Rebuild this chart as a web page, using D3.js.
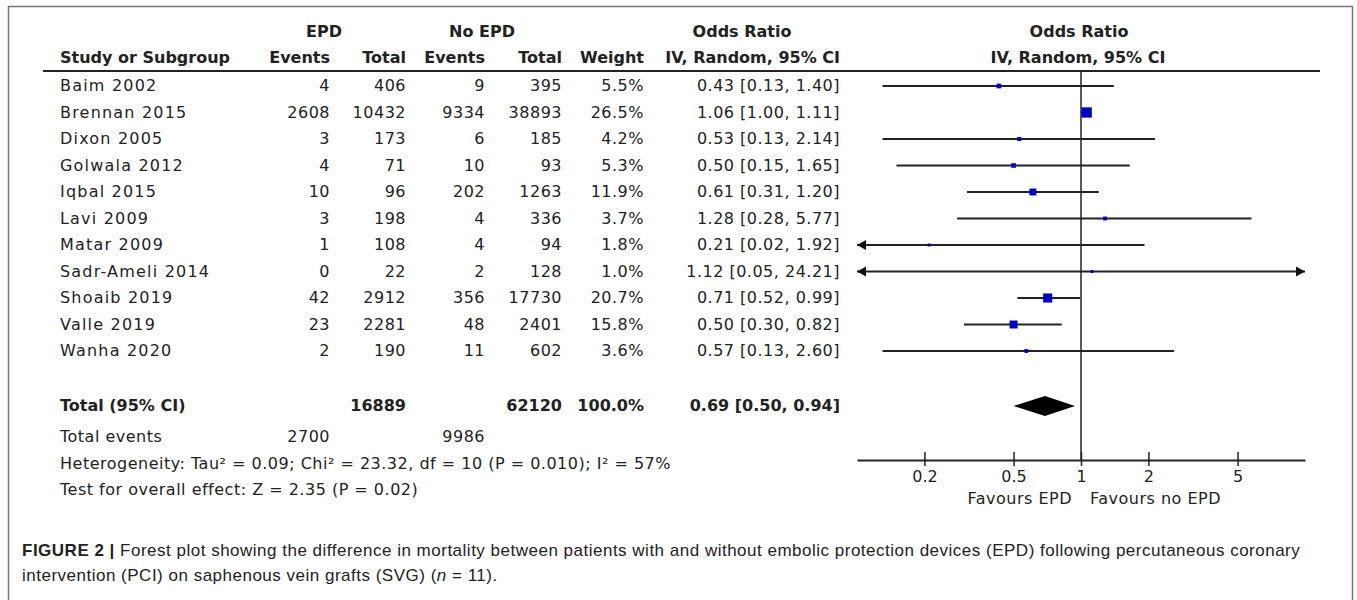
<!DOCTYPE html>
<html>
<head>
<meta charset="utf-8">
<script src="https://cdn.jsdelivr.net/npm/d3@7"></script>
<style>
body { margin:0; background:#fff; }
svg text { fill:#222; }
.tbl { font-family:"DejaVu Sans", sans-serif; font-size:16px; letter-spacing:0.5px; }
.bold { font-weight:bold; letter-spacing:0; }
.name { letter-spacing:1.2px; }
.cap { font-family:"Liberation Sans", Arial, sans-serif; font-size:17px; letter-spacing:0.5px; }
</style>
</head>
<body>
<svg id="chart" width="1357" height="600"></svg>
<script>
// study data
var studies   = ["Baim 2002", "Brennan 2015", "Dixon 2005", "Golwala 2012", "Iqbal 2015", "Lavi 2009",
                 "Matar 2009", "Sadr-Ameli 2014", "Shoaib 2019", "Valle 2019", "Wanha 2020"];
var epdEvents = [4, 2608, 3, 4, 10, 3, 1, 0, 42, 23, 2];
var epdTotal  = [406, 10432, 173, 71, 96, 198, 108, 22, 2912, 2281, 190];
var noEvents  = [9, 9334, 6, 10, 202, 4, 4, 2, 356, 48, 11];
var noTotal   = [395, 38893, 185, 93, 1263, 336, 94, 128, 17730, 2401, 602];
var weights   = [5.5, 26.5, 4.2, 5.3, 11.9, 3.7, 1.8, 1.0, 20.7, 15.8, 3.6];
var oddsRatio = [0.43, 1.06, 0.53, 0.50, 0.61, 1.28, 0.21, 1.12, 0.71, 0.50, 0.57];
var ciLow     = [0.13, 1.00, 0.13, 0.15, 0.31, 0.28, 0.02, 0.05, 0.52, 0.30, 0.13];
var ciHigh    = [1.40, 1.11, 2.14, 1.65, 1.20, 5.77, 1.92, 24.21, 0.99, 0.82, 2.60];

var pooled    = {or: 0.69, lo: 0.50, hi: 0.94};
var totals    = {epdTotal: 16889, noTotal: 62120, weight: "100.0%", epdEvents: 2700, noEvents: 9986};
var axisTicks = [0.2, 0.5, 1, 2, 5];

var svg = d3.select("#chart");

// outer frame
svg.append("rect").attr("x", 8.5).attr("y", 6.5).attr("width", 1344).attr("height", 640)
   .attr("fill", "none").attr("stroke", "#777").attr("stroke-width", 1.5);

var x = d3.scaleLog().domain([0.1, 10]).range([857, 1305]);
var y = d3.scaleLinear().domain([0, 10]).range([86, 351]);

// column right edges
var col = {name: 60, e1: 330, t1: 406, e2: 485, t2: 562, w: 644, or: 840};

var g = svg.append("g").attr("class", "tbl");

// headers
var hdr = g.append("g").attr("class", "bold");
hdr.append("text").attr("x", 324).attr("y", 37).attr("text-anchor", "middle").text("EPD");
hdr.append("text").attr("x", 482).attr("y", 37).attr("text-anchor", "middle").text("No EPD");
hdr.append("text").attr("x", 742).attr("y", 37).attr("text-anchor", "middle").text("Odds Ratio");
hdr.append("text").attr("x", 1079).attr("y", 37).attr("text-anchor", "middle").text("Odds Ratio");
hdr.append("text").attr("x", col.name).attr("y", 63).text("Study or Subgroup");
[["Events", col.e1], ["Total", col.t1], ["Events", col.e2], ["Total", col.t2], ["Weight", col.w], ["IV, Random, 95% CI", col.or]]
  .forEach(function(h){
    hdr.append("text").attr("x", h[1]).attr("y", 63).attr("text-anchor", "end").text(h[0]);
  });
hdr.append("text").attr("x", 1078).attr("y", 63).attr("text-anchor", "middle").text("IV, Random, 95% CI");

svg.append("line").attr("x1", 43).attr("x2", 1320).attr("y1", 71).attr("y2", 71)
   .attr("stroke", "#222").attr("stroke-width", 2);

// study rows
var fmt2 = d3.format(".2f");
var rows = g.selectAll("g.row").data(studies).enter().append("g").attr("class", "row")
  .attr("transform", function(d, i){ return "translate(0," + (y(i) + 5) + ")"; });
rows.append("text").attr("class", "name").attr("x", col.name).text(function(d){ return d; });
rows.append("text").attr("x", col.e1).attr("text-anchor", "end").text(function(d, i){ return epdEvents[i]; });
rows.append("text").attr("x", col.t1).attr("text-anchor", "end").text(function(d, i){ return epdTotal[i]; });
rows.append("text").attr("x", col.e2).attr("text-anchor", "end").text(function(d, i){ return noEvents[i]; });
rows.append("text").attr("x", col.t2).attr("text-anchor", "end").text(function(d, i){ return noTotal[i]; });
rows.append("text").attr("x", col.w).attr("text-anchor", "end").text(function(d, i){ return weights[i].toFixed(1) + "%"; });
rows.append("text").attr("x", col.or).attr("text-anchor", "end")
  .text(function(d, i){ return fmt2(oddsRatio[i]) + " [" + fmt2(ciLow[i]) + ", " + fmt2(ciHigh[i]) + "]"; });

// totals
var yTot = 406;
var tot = g.append("g").attr("class", "bold").attr("transform", "translate(0," + (yTot + 5) + ")");
tot.append("text").attr("x", col.name).text("Total (95% CI)");
tot.append("text").attr("x", col.t1).attr("text-anchor", "end").text(totals.epdTotal);
tot.append("text").attr("x", col.t2).attr("text-anchor", "end").text(totals.noTotal);
tot.append("text").attr("x", col.w).attr("text-anchor", "end").text(totals.weight);
tot.append("text").attr("x", col.or).attr("text-anchor", "end")
   .text(fmt2(pooled.or) + " [" + fmt2(pooled.lo) + ", " + fmt2(pooled.hi) + "]");

var ev = g.append("g").attr("transform", "translate(0,442)");
ev.append("text").attr("x", col.name).text("Total events");
ev.append("text").attr("x", col.e1).attr("text-anchor", "end").text(totals.epdEvents);
ev.append("text").attr("x", col.e2).attr("text-anchor", "end").text(totals.noEvents);

g.append("text").attr("x", col.name).attr("y", 469)
 .text("Heterogeneity: Tau\u00B2 = 0.09; Chi\u00B2 = 23.32, df = 10 (P = 0.010); I\u00B2 = 57%");
g.append("text").attr("x", col.name).attr("y", 495)
 .text("Test for overall effect: Z = 2.35 (P = 0.02)");

// forest plot
var plot = svg.append("g");
var axisY = 460;
plot.append("line").attr("x1", x(1)).attr("x2", x(1)).attr("y1", 71).attr("y2", axisY)
    .attr("stroke", "#222").attr("stroke-width", 1.5);

var lo = x.domain()[0], hi = x.domain()[1];
studies.forEach(function(s, i){
  var yy = y(i);
  var x1 = x(Math.max(ciLow[i], lo)), x2 = x(Math.min(ciHigh[i], hi));
  plot.append("line").attr("x1", x1).attr("x2", x2).attr("y1", yy).attr("y2", yy)
      .attr("stroke", "#222").attr("stroke-width", 2);
  if (ciLow[i] < lo)
    plot.append("path").attr("d", "M" + x1 + "," + yy + "l9,-5l0,10z").attr("fill", "#111");
  if (ciHigh[i] > hi)
    plot.append("path").attr("d", "M" + x2 + "," + yy + "l-9,-5l0,10z").attr("fill", "#111");
  var side = Math.max(3, 2 * Math.sqrt(weights[i]));
  plot.append("rect").attr("x", x(oddsRatio[i]) - side / 2).attr("y", yy - side / 2)
      .attr("width", side).attr("height", side).attr("fill", "#0000c8");
});

// pooled diamond
plot.append("path")
  .attr("d", "M" + x(pooled.lo) + "," + yTot + "L" + x(pooled.or) + "," + (yTot - 10) +
             "L" + x(pooled.hi) + "," + yTot + "L" + x(pooled.or) + "," + (yTot + 10) + "Z")
  .attr("fill", "#000");

// axis
var axis = d3.axisBottom(x).tickValues(axisTicks).tickFormat(d3.format("")).tickSizeOuter(0);
var ax = plot.append("g").attr("transform", "translate(0," + axisY + ")").call(axis);
ax.select(".domain").attr("stroke", "#222").attr("stroke-width", 2);
ax.selectAll(".tick line").attr("y1", -8).attr("y2", 6).attr("stroke", "#222").attr("stroke-width", 1.5);
ax.selectAll(".tick text").attr("y", 11).attr("dy", "0.71em")
  .style("font-family", "DejaVu Sans, sans-serif").style("font-size", "16px").attr("fill", "#222");

plot.append("text").attr("class", "tbl").attr("x", 1072).attr("y", 504).attr("text-anchor", "end")
    .text("Favours EPD");
plot.append("text").attr("class", "tbl").attr("x", 1090).attr("y", 504)
    .text("Favours no EPD");

// caption
var cap = svg.append("g").attr("class", "cap");
var c1 = cap.append("text").attr("x", 22).attr("y", 556).attr("fill", "#444");
c1.append("tspan").attr("font-weight", "bold").attr("fill", "#222").text("FIGURE 2 | ");
c1.append("tspan").text("Forest plot showing the difference in mortality between patients with and without embolic protection devices (EPD) following percutaneous coronary");
var c2 = cap.append("text").attr("x", 22).attr("y", 581).attr("fill", "#444");
c2.append("tspan").text("intervention (PCI) on saphenous vein grafts (SVG) (");
c2.append("tspan").attr("font-style", "italic").text("n");
c2.append("tspan").text(" = 11).");
</script>
</body>
</html>
